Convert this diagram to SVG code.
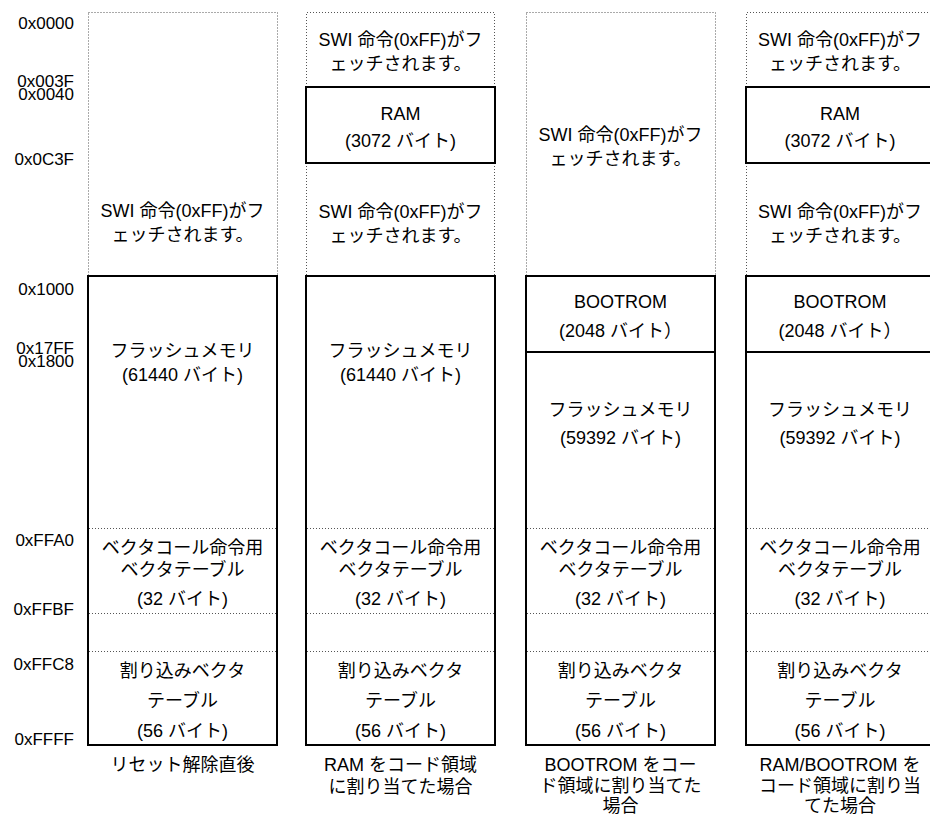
<svg xmlns="http://www.w3.org/2000/svg" width="930" height="817" viewBox="0 0 930 817">
<style>
.t{font-family:"Liberation Sans","Noto Sans CJK JP",sans-serif;font-size:18px;fill:#000}
.c{text-anchor:middle}
.a{text-anchor:end;font-size:17px}
.dot{fill:none;stroke:#555;stroke-width:1;stroke-dasharray:1 2}
.box{fill:none;stroke:#000;stroke-width:2}
</style>
<rect width="930" height="817" fill="#fff"/>
<g id="addresses" class="t a">
<text x="74" y="29">0x0000</text>
<text x="74" y="87">0x003F</text>
<text x="74" y="100">0x0040</text>
<text x="74" y="165">0x0C3F</text>
<text x="74" y="295">0x1000</text>
<text x="74" y="354">0x17FF</text>
<text x="74" y="367">0x1800</text>
<text x="74" y="546">0xFFA0</text>
<text x="74" y="615">0xFFBF</text>
<text x="74" y="670">0xFFC8</text>
<text x="74" y="745">0xFFFF</text>
</g>
<g id="col1">
<rect class="dot" x="88.5" y="12.5" width="189" height="263.5"/>
<rect class="box" x="88" y="276" width="189" height="469"/>
<line class="dot" x1="89" y1="528.5" x2="276" y2="528.5"/>
<line class="dot" x1="89" y1="613.5" x2="276" y2="613.5"/>
<line class="dot" x1="89" y1="651.5" x2="276" y2="651.5"/>
<g class="t c">
<text x="182.5" y="217">SWI 命令(0xFF)がフ</text>
<text x="182.5" y="241">ェッチされます。</text>
<text x="182.5" y="357">フラッシュメモリ</text>
<text x="182.5" y="381">(61440 バイト)</text>
<text x="182.5" y="554">ベクタコール命令用</text>
<text x="182.5" y="576">ベクタテーブル</text>
<text x="182.5" y="605">(32 バイト)</text>
<text x="182.5" y="677">割り込みベクタ</text>
<text x="182.5" y="707">テーブル</text>
<text x="182.5" y="737">(56 バイト)</text>
<text x="182.5" y="771">リセット解除直後</text>
</g>
</g>
<g id="col2">
<path class="dot" d="M306.5 87V12.5H494.5V87M306.5 163V276M494.5 163V276"/>
<rect class="box" x="306" y="87" width="189" height="76"/>
<rect class="box" x="306" y="276" width="189" height="469"/>
<line class="dot" x1="307" y1="528.5" x2="494" y2="528.5"/>
<line class="dot" x1="307" y1="613.5" x2="494" y2="613.5"/>
<line class="dot" x1="307" y1="651.5" x2="494" y2="651.5"/>
<g class="t c">
<text x="400.5" y="46">SWI 命令(0xFF)がフ</text>
<text x="400.5" y="70">ェッチされます。</text>
<text x="400.5" y="120">RAM</text>
<text x="400.5" y="147">(3072 バイト)</text>
<text x="400.5" y="218">SWI 命令(0xFF)がフ</text>
<text x="400.5" y="242">ェッチされます。</text>
<text x="400.5" y="357">フラッシュメモリ</text>
<text x="400.5" y="381">(61440 バイト)</text>
<text x="400.5" y="554">ベクタコール命令用</text>
<text x="400.5" y="576">ベクタテーブル</text>
<text x="400.5" y="605">(32 バイト)</text>
<text x="400.5" y="677">割り込みベクタ</text>
<text x="400.5" y="707">テーブル</text>
<text x="400.5" y="737">(56 バイト)</text>
<text x="400.5" y="771">RAM をコード領域</text>
<text x="400.5" y="793">に割り当てた場合</text>
</g>
</g>
<g id="col3">
<rect class="dot" x="526.5" y="12.5" width="189" height="263.5"/>
<rect class="box" x="526" y="276" width="189" height="469"/>
<line class="box" x1="526" y1="352" x2="715" y2="352"/>
<line class="dot" x1="527" y1="528.5" x2="714" y2="528.5"/>
<line class="dot" x1="527" y1="613.5" x2="714" y2="613.5"/>
<line class="dot" x1="527" y1="651.5" x2="714" y2="651.5"/>
<g class="t c">
<text x="620.5" y="141">SWI 命令(0xFF)がフ</text>
<text x="620.5" y="165">ェッチされます。</text>
<text x="620.5" y="308">BOOTROM</text>
<text x="620.5" y="337">(2048 バイト）</text>
<text x="620.5" y="416">フラッシュメモリ</text>
<text x="620.5" y="444">(59392 バイト)</text>
<text x="620.5" y="554">ベクタコール命令用</text>
<text x="620.5" y="576">ベクタテーブル</text>
<text x="620.5" y="605">(32 バイト)</text>
<text x="620.5" y="677">割り込みベクタ</text>
<text x="620.5" y="707">テーブル</text>
<text x="620.5" y="737">(56 バイト)</text>
<text x="620.5" y="771">BOOTROM をコー</text>
<text x="620.5" y="792">ド領域に割り当てた</text>
<text x="620.5" y="812">場合</text>
</g>
</g>
<g id="col4">
<path class="dot" d="M746.5 87V12.5H934.5V87M746.5 163V276M934.5 163V276"/>
<rect class="box" x="746" y="87" width="189" height="76"/>
<rect class="box" x="746" y="276" width="189" height="469"/>
<line class="box" x1="746" y1="352" x2="935" y2="352"/>
<line class="dot" x1="747" y1="528.5" x2="934" y2="528.5"/>
<line class="dot" x1="747" y1="613.5" x2="934" y2="613.5"/>
<line class="dot" x1="747" y1="651.5" x2="934" y2="651.5"/>
<g class="t c">
<text x="840" y="46">SWI 命令(0xFF)がフ</text>
<text x="840" y="70">ェッチされます。</text>
<text x="840" y="120">RAM</text>
<text x="840" y="147">(3072 バイト)</text>
<text x="840" y="218">SWI 命令(0xFF)がフ</text>
<text x="840" y="242">ェッチされます。</text>
<text x="840" y="308">BOOTROM</text>
<text x="840" y="337">(2048 バイト）</text>
<text x="840" y="416">フラッシュメモリ</text>
<text x="840" y="444">(59392 バイト)</text>
<text x="840" y="554">ベクタコール命令用</text>
<text x="840" y="576">ベクタテーブル</text>
<text x="840" y="605">(32 バイト)</text>
<text x="840" y="677">割り込みベクタ</text>
<text x="840" y="707">テーブル</text>
<text x="840" y="737">(56 バイト)</text>
<text x="840" y="771">RAM/BOOTROM を</text>
<text x="840" y="792">コード領域に割り当</text>
<text x="840" y="812">てた場合</text>
</g>
</g>
</svg>
